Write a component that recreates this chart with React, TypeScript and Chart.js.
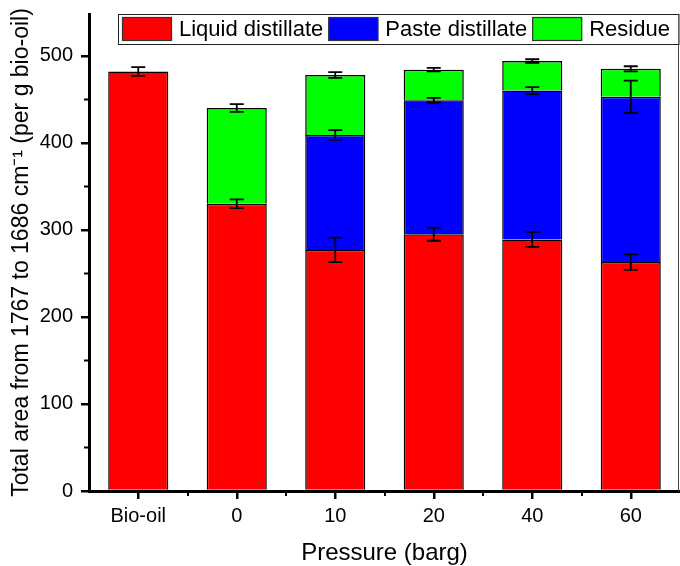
import React, { useEffect, useRef } from "react";
import { Chart, registerables } from "chart.js";

Chart.register(...registerables);

const categories = ["Bio-oil", "0", "10", "20", "40", "60"];
const liquid = [482, 330, 277, 295, 289, 263];
const paste = [null, null, 132, 154, 171, 190];
const residue = [null, 110, 69, 35, 34, 32];
const liquidErr = [5, 5, 14, 7.5, 8.5, 9];
const pasteErr = [null, null, 5.5, 2.7, 4, 18.5];
const residueErr = [null, 4.5, 3.3, 2, 2, 3];
const yTicks = [0, 100, 200, 300, 400, 500];
const yMinorTicks = [50, 150, 250, 350, 450];
const yMax = 548;

const FONT = 'Arial, "Liberation Sans", sans-serif';

const errorBarPlugin = {
  id: "errorBars",
  afterDatasetsDraw(chart: any) {
    const { ctx } = chart;
    const y = chart.scales.y;
    ctx.save();
    ctx.strokeStyle = "#000";
    ctx.lineWidth = 1.8;
    chart.data.datasets.forEach((ds: any, di: number) => {
      const meta = chart.getDatasetMeta(di);
      const errs = ds.errors || [];
      meta.data.forEach((el: any, i: number) => {
        const e = errs[i];
        if (e == null || ds.data[i] == null) return;
        let top = 0;
        for (let k = 0; k <= di; k++) top += chart.data.datasets[k].data[i] ?? 0;
        const x = el.x;
        const y1 = y.getPixelForValue(top + e);
        const y2 = y.getPixelForValue(top - e);
        const hw = 7;
        ctx.beginPath();
        ctx.moveTo(x, y1);
        ctx.lineTo(x, y2);
        ctx.moveTo(x - hw, y1);
        ctx.lineTo(x + hw, y1);
        ctx.moveTo(x - hw, y2);
        ctx.lineTo(x + hw, y2);
        ctx.stroke();
      });
    });
    ctx.restore();
  },
};

const decorPlugin = {
  id: "decor",
  afterDraw(chart: any) {
    const { ctx, chartArea } = chart;
    const x = chart.scales.x;
    const y = chart.scales.y;
    ctx.save();
    // minor ticks
    ctx.strokeStyle = "#000";
    ctx.lineWidth = 2;
    ctx.beginPath();
    yMinorTicks.forEach((v) => {
      const py = Math.round(y.getPixelForValue(v)) + 0.5;
      ctx.moveTo(chartArea.left - 5, py);
      ctx.lineTo(chartArea.left, py);
    });
    for (let i = 0; i < categories.length - 1; i++) {
      const px = Math.round((x.getPixelForTick(i) + x.getPixelForTick(i + 1)) / 2);
      ctx.moveTo(px, chartArea.bottom);
      ctx.lineTo(px, chartArea.bottom + 5);
    }
    ctx.stroke();
    // right frame
    ctx.strokeStyle = "#444";
    ctx.lineWidth = 1;
    ctx.beginPath();
    ctx.moveTo(chartArea.right - 1.5, chartArea.top);
    ctx.lineTo(chartArea.right - 1.5, chartArea.bottom);
    ctx.stroke();
    // legend
    const lx = chartArea.left + 29;
    const ly = chartArea.top;
    const lr = chartArea.right - 1.5;
    const lh = 30;
    ctx.fillStyle = "#fff";
    ctx.fillRect(lx, ly, lr - lx, lh);
    ctx.strokeStyle = "#222";
    ctx.lineWidth = 1;
    ctx.strokeRect(lx + 0.5, ly + 0.5, lr - lx, lh);
    ctx.font = `22px ${FONT}`;
    ctx.textBaseline = "middle";
    ctx.textAlign = "left";
    let cx = lx + 4;
    chart.data.datasets.forEach((ds: any) => {
      ctx.fillStyle = ds.backgroundColor;
      ctx.fillRect(cx, ly + 3, 50, 24);
      ctx.strokeStyle = "#333";
      ctx.lineWidth = 1.2;
      ctx.strokeRect(cx + 0.5, ly + 3.5, 49, 23);
      ctx.fillStyle = "#000";
      const tx = cx + 57;
      ctx.fillText(ds.label, tx, ly + lh / 2 + 1);
      cx = tx + ctx.measureText(ds.label).width + 5;
    });
    ctx.restore();
  },
};

export default function App() {
  const ref = useRef<HTMLCanvasElement | null>(null);
  useEffect(() => {
    if (!ref.current) return;
    Chart.defaults.font.family = FONT;
    Chart.defaults.color = "#000";
    const common = {
      borderColor: "#000",
      borderWidth: 1.5,
      barPercentage: 0.61,
      categoryPercentage: 1,
    };
    const chart = new Chart(ref.current, {
      type: "bar",
      data: {
        labels: categories,
        datasets: [
          { label: "Liquid distillate", data: liquid, backgroundColor: "#ff0000", errors: liquidErr, ...common } as any,
          { label: "Paste distillate", data: paste, backgroundColor: "#0000ff", errors: pasteErr, ...common } as any,
          { label: "Residue", data: residue, backgroundColor: "#00ff00", errors: residueErr, ...common } as any,
        ],
      },
      options: {
        responsive: false,
        animation: false,
        devicePixelRatio: 1,
        layout: { padding: { top: 14, right: 0, left: 0, bottom: 0 } },
        plugins: { legend: { display: false }, tooltip: { enabled: false } },
        scales: {
          x: {
            stacked: true,
            offset: true,
            grid: { display: true, drawOnChartArea: false, drawTicks: true, tickLength: 8, offset: false, color: "#000", lineWidth: 2.5 },
            border: { display: true, color: "#000", width: 3 },
            ticks: { font: { size: 20 }, color: "#000", padding: 5, maxRotation: 0, autoSkip: false },
            title: { display: true, text: "Pressure (barg)", font: { size: 24, lineHeight: 1 }, color: "#000", padding: { top: 0, bottom: 1 } },
            afterFit: (s: any) => { s.height = 75; s.paddingLeft = 0; s.paddingRight = 0; },
          },
          y: {
            stacked: true,
            min: 0,
            max: yMax,
            grid: { display: true, drawOnChartArea: false, drawTicks: true, tickLength: 8, color: "#000", lineWidth: 2.5 },
            border: { display: true, color: "#000", width: 3 },
            ticks: { font: { size: 20 }, color: "#000", padding: 8 },
            afterBuildTicks: (s: any) => { s.ticks = yTicks.map((v) => ({ value: v })); },
            title: {
              display: true,
              text: "Total area from 1767 to 1686 cm\u207B\u00B9 (per g bio-oil)",
              font: { size: 23, lineHeight: 1 },
              color: "#000",
              padding: { top: 10, bottom: 0 },
            },
            afterFit: (s: any) => { s.width = 89; s.paddingTop = 0; s.paddingBottom = 0; },
          },
        },
      } as any,
      plugins: [errorBarPlugin, decorPlugin],
    });
    return () => chart.destroy();
  }, []);
  return (
    <div style={{ position: "fixed", left: 0, top: 0, width: 680, height: 566, background: "#fff" }}>
      <canvas ref={ref} width={680} height={566} style={{ width: 680, height: 566, display: "block" }} />
    </div>
  );
}
